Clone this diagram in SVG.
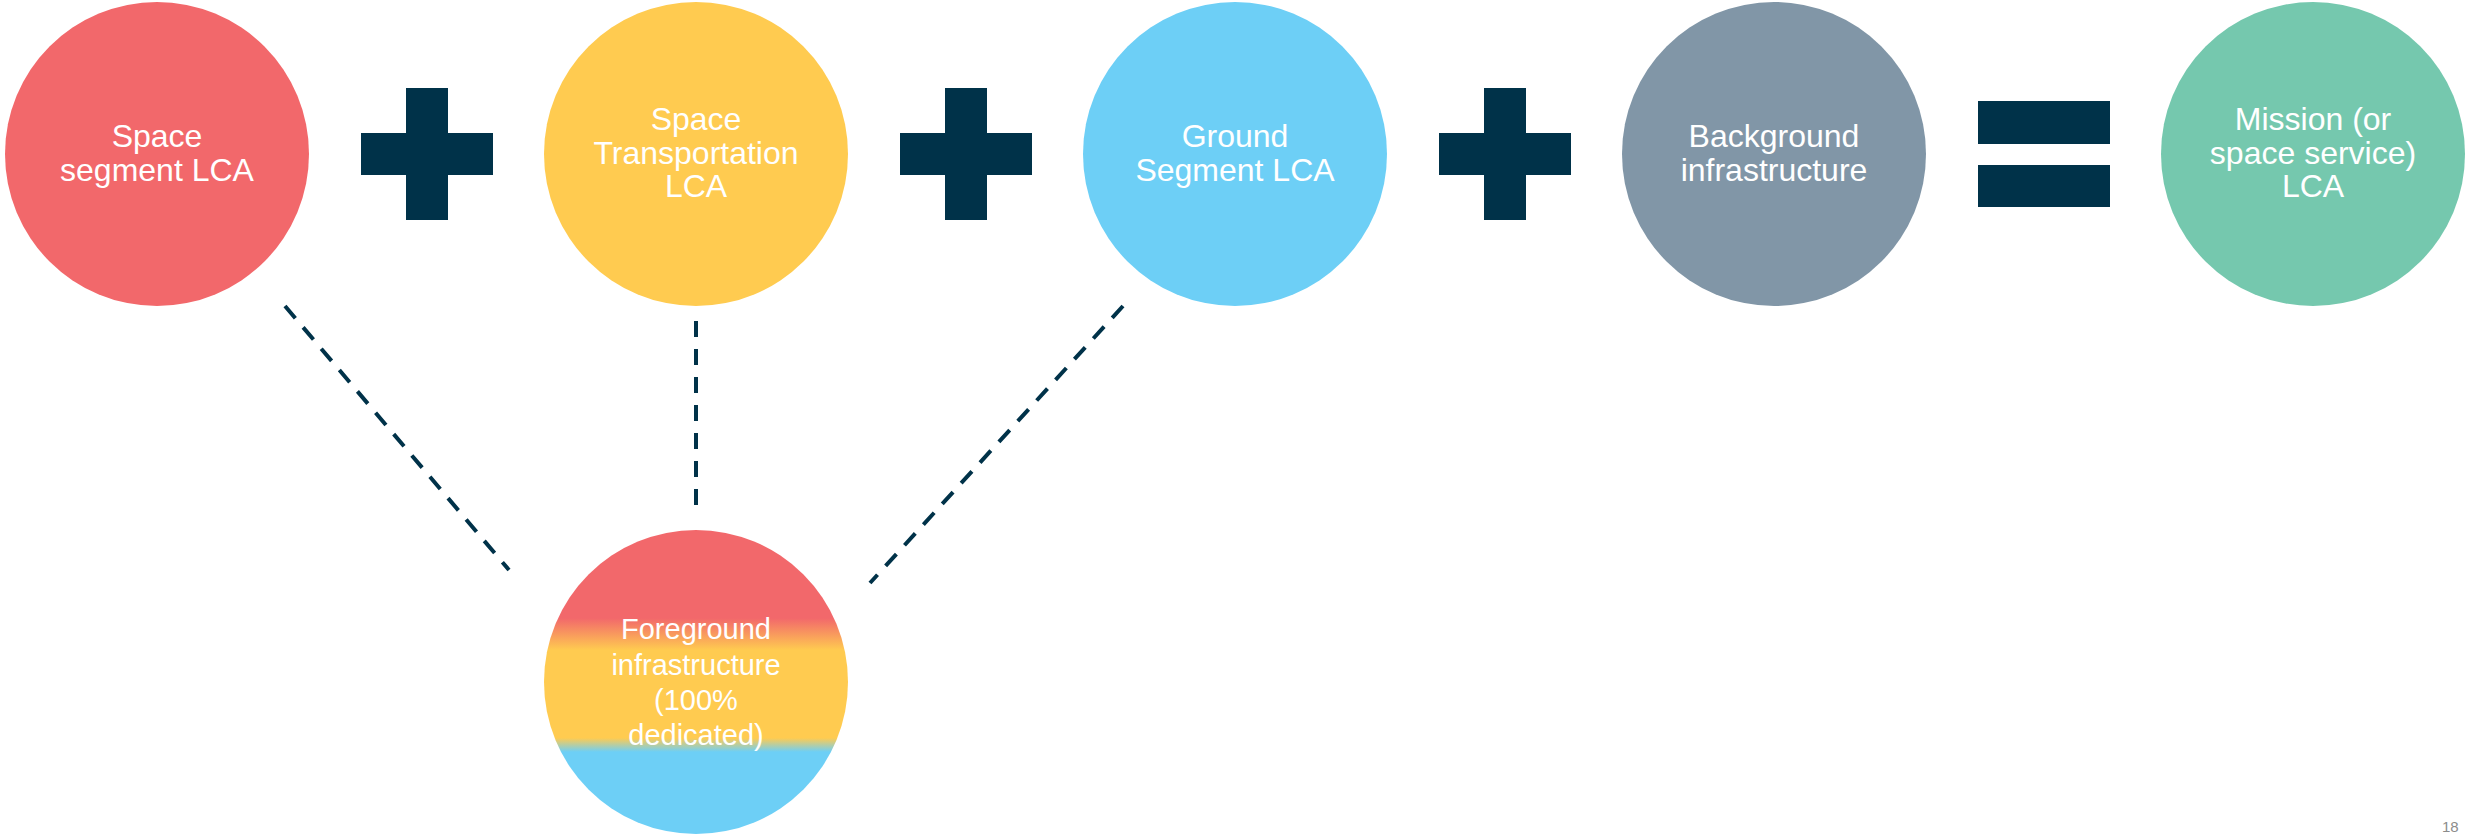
<svg xmlns="http://www.w3.org/2000/svg" width="2467" height="835" viewBox="0 0 2467 835">
<style>
.lbl{font-family:"Liberation Sans",Arial,sans-serif;font-size:32px;fill:#ffffff;text-anchor:middle}
.fg{font-size:29px}
.op{fill:#003249}
.dash{stroke:#003249;stroke-width:4;stroke-dasharray:16 12;fill:none}
.pg{font-family:"Liberation Sans",Arial,sans-serif;font-size:15px;fill:#8c8c8c}
</style>
<defs>
<linearGradient id="fgGrad" x1="0" y1="0" x2="0" y2="1">
<stop offset="0" stop-color="#F2686B"/>
<stop offset="0.29" stop-color="#F2686B"/>
<stop offset="0.395" stop-color="#FFCB50"/>
<stop offset="0.684" stop-color="#FFCB50"/>
<stop offset="0.73" stop-color="#6DCFF6"/>
<stop offset="1" stop-color="#6DCFF6"/>
</linearGradient>
</defs>
<rect width="2467" height="835" fill="#ffffff"/>
<g id="connectors">
<line class="dash" x1="285" y1="306" x2="509" y2="570"/>
<line class="dash" x1="696" y1="321" x2="696" y2="506"/>
<line class="dash" x1="1123" y1="306" x2="870" y2="583"/>
</g>
<g id="space-segment">
<circle cx="157" cy="154" r="152" fill="#F2686B"/>
<text class="lbl" x="157" y="147">Space</text>
<text class="lbl" x="157" y="181">segment LCA</text>
</g>
<g id="plus1" class="op">
<rect x="406" y="88" width="42" height="132"/>
<rect x="361" y="133" width="132" height="42"/>
</g>
<g id="space-transportation">
<circle cx="696" cy="154" r="152" fill="#FFCB50"/>
<text class="lbl" x="696" y="130">Space</text>
<text class="lbl" x="696" y="164">Transportation</text>
<text class="lbl" x="696" y="197">LCA</text>
</g>
<g id="plus2" class="op">
<rect x="945" y="88" width="42" height="132"/>
<rect x="900" y="133" width="132" height="42"/>
</g>
<g id="ground-segment">
<circle cx="1235" cy="154" r="152" fill="#6DCFF6"/>
<text class="lbl" x="1235" y="147">Ground</text>
<text class="lbl" x="1235" y="181">Segment LCA</text>
</g>
<g id="plus3" class="op">
<rect x="1484" y="88" width="42" height="132"/>
<rect x="1439" y="133" width="132" height="42"/>
</g>
<g id="background-infrastructure">
<circle cx="1774" cy="154" r="152" fill="#8196A7"/>
<text class="lbl" x="1774" y="147">Background</text>
<text class="lbl" x="1774" y="181">infrastructure</text>
</g>
<g id="equals" class="op">
<rect x="1978" y="101" width="132" height="43"/>
<rect x="1978" y="165" width="132" height="42"/>
</g>
<g id="mission">
<circle cx="2313" cy="154" r="152" fill="#75C8AE"/>
<text class="lbl" x="2313" y="130">Mission (or</text>
<text class="lbl" x="2313" y="164">space service)</text>
<text class="lbl" x="2313" y="197">LCA</text>
</g>
<g id="foreground-infrastructure">
<circle cx="696" cy="682" r="152" fill="url(#fgGrad)"/>
<text class="lbl fg" x="696" y="639">Foreground</text>
<text class="lbl fg" x="696" y="675">infrastructure</text>
<text class="lbl fg" x="696" y="710">(100%</text>
<text class="lbl fg" x="696" y="745">dedicated)</text>
</g>
<text class="pg" x="2442" y="832">18</text>
</svg>
